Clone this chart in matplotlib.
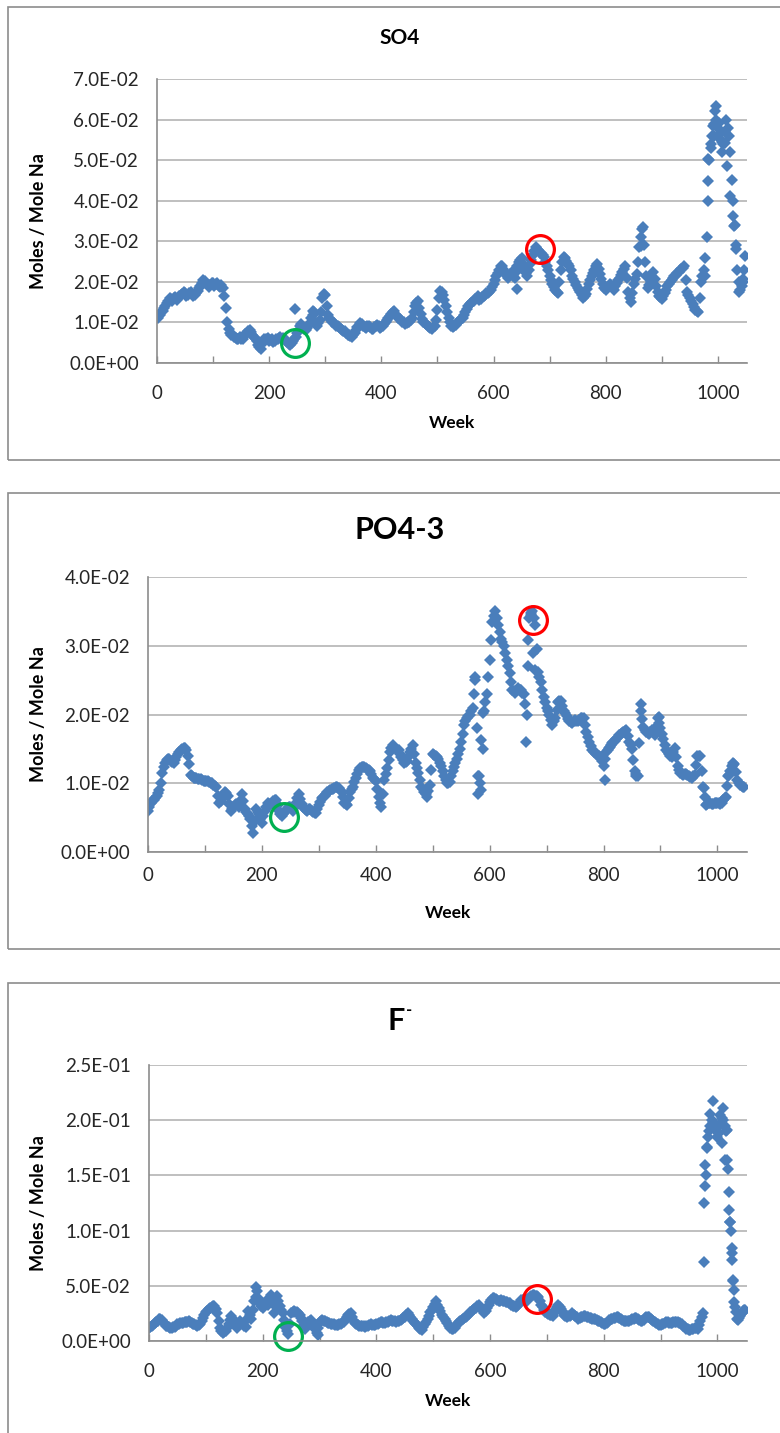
import matplotlib.pyplot as plt
import matplotlib.patches as mpatches
from matplotlib.ticker import FuncFormatter, MultipleLocator
import numpy as np

plt.rcParams['font.family'] = ['Lato', 'DejaVu Sans']

# sampling weeks: every 5th week, plus the readings in between
weeks = np.arange(0, 1050, 5)
weeks_mid = weeks + 2.5

so4 = [
    .0115, .0118, .0128, .0140, .0152, .0158, .0160, .0155, .0165, .0170,
    .0172, .0168, .0175, .0165, .0172, .0185, .0198, .0203, .0195, .0192,
    .0198, .0195, .0190, .0192, .0165, .0100, .0075, .0068, .0062, .0060,
    .0058, .0066, .0075, .0082, .0070, .0062, .0045, .0034, .0058, .0060,
    .0055, .0058, .0055, .0060, .0063, .0062, .0055, .0047, .0050, .0058,
    .0075, .0090, .0088, .0082, .0090, .0110, .0125, .0090, .0105, .0160,
    .0168, .0118, .0105, .0098, .0092, .0088, .0082, .0078, .0070, .0066,
    .0068, .0082, .0092, .0095, .0088, .0090, .0088, .0085, .0090, .0092,
    .0088, .0095, .0105, .0115, .0125, .0120, .0110, .0105, .0100, .0098,
    .0100, .0110, .0140, .0152, .0120, .0100, .0095, .0088, .0085, .0090,
    .0130, .0178, .0168, .0140, .0110, .0092, .0090, .0098, .0105, .0112,
    .0125, .0140, .0148, .0152, .0160, .0155, .0162, .0168, .0172, .0180,
    .0195, .0215, .0230, .0238, .0225, .0210, .0220, .0215, .0225, .0250,
    .0260, .0232, .0215, .0245, .0265, .0285, .0278, .0270, .0262, .0240,
    .0215, .0195, .0180, .0172, .0230, .0262, .0252, .0240, .0215, .0200,
    .0185, .0175, .0160, .0170, .0195, .0215, .0228, .0245, .0220, .0195,
    .0180, .0188, .0192, .0180, .0198, .0210, .0225, .0240, .0175, .0150,
    .0195, .0220, .0285, .0330, .0250, .0185, .0200, .0225, .0190, .0165,
    .0158, .0172, .0190, .0200, .0210, .0218, .0225, .0232, .0238, .0175,
    .0160, .0145, .0130, .0125, .0200, .0230, .0310, .0500, .0560, .0620,
    .0580, .0550, .0540, .0600, .0560, .0450, .0340, .0230, .0180, .0200,
]
so4_mid = [
    .0112, .0125, .0135, .0148, .0160, .0152, .0162, .0160, .0168, .0175,
    .0165, .0172, .0170, .0168, .0178, .0190, .0205, .0198, .0188, .0196,
    .0190, .0198, .0188, .0185, .0135, .0085, .0070, .0065, .0058, .0063,
    .0060, .0072, .0080, .0076, .0065, .0055, .0040, .0050, .0055, .0062,
    .0057, .0052, .0058, .0062, .0058, .0060, .0052, .0044, .0055, .0065,
    .0082, .0095, .0085, .0086, .0098, .0118, .0100, .0098, .0125, .0170,
    .0140, .0110, .0100, .0095, .0090, .0085, .0080, .0074, .0068, .0065,
    .0075, .0088, .0098, .0092, .0086, .0092, .0084, .0088, .0094, .0086,
    .0092, .0100, .0110, .0122, .0128, .0115, .0108, .0102, .0096, .0102,
    .0105, .0125, .0148, .0135, .0108, .0098, .0090, .0086, .0088, .0105,
    .0160, .0175, .0155, .0125, .0100, .0088, .0094, .0102, .0108, .0118,
    .0132, .0145, .0150, .0158, .0165, .0158, .0165, .0172, .0176, .0188,
    .0205, .0222, .0240, .0232, .0218, .0215, .0225, .0210, .0238, .0255,
    .0245, .0222, .0230, .0255, .0275, .0282, .0272, .0265, .0250, .0228,
    .0205, .0188, .0176, .0200, .0250, .0258, .0245, .0228, .0208, .0192,
    .0180, .0168, .0165, .0182, .0205, .0222, .0238, .0232, .0208, .0185,
    .0184, .0195, .0186, .0190, .0204, .0218, .0232, .0210, .0160, .0172,
    .0208, .0250, .0310, .0290, .0215, .0192, .0212, .0208, .0175, .0162,
    .0165, .0180, .0195, .0205, .0214, .0222, .0228, .0235, .0205, .0168,
    .0152, .0138, .0128, .0160, .0215, .0260, .0400, .0530, .0590, .0600,
    .0565, .0545, .0570, .0580, .0520, .0400, .0290, .0200, .0190, .0230,
]
so4_xw = [246, 279, 642, 863, 866, 978, 982, 983, 987, 992, 994, 997, 1002,
          1007, 1012, 1017, 1022, 1027, 1029, 1032, 1038, 1044, 1048]
so4_xv = [.0133, .0129, .0182, .0289, .0334, .0215, .0448, .0502, .0540,
          .0585, .0559, .0633, .0592, .0520, .0543, .0485, .0411, .0362,
          .0338, .0280, .0174, .0207, .0264]

po4 = [
    .0060, .0072, .0076, .0082, .0090, .0115, .0130, .0136, .0133, .0130,
    .0138, .0146, .0150, .0152, .0140, .0112, .0108, .0107, .0106, .0105,
    .0104, .0103, .0101, .0098, .0094, .0072, .0078, .0088, .0082, .0060,
    .0065, .0070, .0066, .0085, .0062, .0056, .0048, .0027, .0062, .0055,
    .0042, .0060, .0072, .0068, .0074, .0076, .0060, .0052, .0058, .0064,
    .0066, .0060, .0072, .0084, .0070, .0062, .0060, .0063, .0058, .0057,
    .0068, .0078, .0082, .0088, .0090, .0092, .0094, .0093, .0088, .0072,
    .0068, .0088, .0095, .0108, .0120, .0124, .0123, .0121, .0118, .0108,
    .0104, .0080, .0066, .0105, .0122, .0145, .0156, .0150, .0148, .0138,
    .0130, .0132, .0145, .0155, .0130, .0115, .0095, .0088, .0080, .0098,
    .0142, .0140, .0135, .0125, .0110, .0100, .0102, .0118, .0130, .0142,
    .0160, .0185, .0195, .0200, .0210, .0250, .0110, .0090, .0205, .0230,
    .0280, .0335, .0350, .0330, .0310, .0300, .0280, .0260, .0235, .0232,
    .0238, .0235, .0230, .0200, .0340, .0350, .0330, .0262, .0248, .0225,
    .0210, .0200, .0185, .0195, .0218, .0220, .0205, .0198, .0190, .0188,
    .0192, .0190, .0195, .0195, .0175, .0160, .0148, .0145, .0140, .0138,
    .0125, .0145, .0152, .0158, .0162, .0168, .0172, .0175, .0178, .0160,
    .0150, .0118, .0110, .0205, .0182, .0175, .0172, .0178, .0170, .0195,
    .0180, .0165, .0148, .0142, .0138, .0152, .0125, .0115, .0112, .0114,
    .0110, .0108, .0112, .0140, .0140, .0095, .0068, .0072, .0070, .0071,
    .0072, .0070, .0075, .0080, .0112, .0125, .0128, .0105, .0097, .0095,
]
po4_mid = [
    .0065, .0074, .0079, .0086, .0100, .0124, .0134, .0135, .0131, .0134,
    .0142, .0148, .0151, .0148, .0128, .0110, .0108, .0106, .0106, .0104,
    .0104, .0102, .0100, .0096, .0082, .0074, .0083, .0086, .0070, .0062,
    .0068, .0068, .0076, .0074, .0058, .0052, .0038, .0045, .0058, .0048,
    .0052, .0066, .0070, .0071, .0075, .0068, .0056, .0055, .0061, .0065,
    .0063, .0066, .0078, .0077, .0066, .0061, .0062, .0060, .0057, .0062,
    .0073, .0080, .0085, .0089, .0091, .0093, .0094, .0090, .0080, .0070,
    .0078, .0092, .0102, .0114, .0122, .0124, .0122, .0120, .0113, .0106,
    .0092, .0072, .0085, .0114, .0134, .0152, .0153, .0149, .0143, .0134,
    .0131, .0138, .0150, .0142, .0122, .0105, .0092, .0084, .0089, .0120,
    .0141, .0138, .0130, .0118, .0105, .0101, .0110, .0124, .0136, .0150,
    .0172, .0190, .0198, .0205, .0230, .0180, .0100, .0150, .0218, .0255,
    .0308, .0343, .0340, .0320, .0305, .0290, .0270, .0248, .0234, .0235,
    .0236, .0232, .0215, .0270, .0345, .0340, .0295, .0255, .0236, .0218,
    .0205, .0192, .0190, .0206, .0219, .0212, .0202, .0194, .0189, .0190,
    .0191, .0192, .0195, .0185, .0168, .0154, .0146, .0142, .0139, .0132,
    .0135, .0148, .0155, .0160, .0165, .0170, .0173, .0176, .0169, .0155,
    .0134, .0114, .0158, .0194, .0178, .0173, .0175, .0174, .0182, .0188,
    .0172, .0156, .0145, .0140, .0145, .0138, .0120, .0113, .0113, .0112,
    .0109, .0110, .0126, .0140, .0118, .0080, .0070, .0071, .0070, .0072,
    .0071, .0072, .0078, .0096, .0118, .0126, .0116, .0101, .0096, .0094,
]
po4_xw = [574, 580, 582, 585, 588, 664, 667, 672, 676, 679, 802, 811, 857,
          866, 898, 977, 1018, 1027]
po4_xv = [.0255, .0085, .0110, .0163, .0202, .0160, .0308, .0347, .0289,
          .0265, .0105, .0153, .0110, .0216, .0197, .0093, .0110, .0129]

fl = [
    .0115, .0135, .0160, .0185, .0200, .0175, .0140, .0125, .0120, .0130,
    .0150, .0160, .0165, .0170, .0180, .0165, .0150, .0140, .0150, .0210,
    .0260, .0290, .0310, .0320, .0250, .0120, .0080, .0090, .0150, .0230,
    .0170, .0120, .0180, .0150, .0130, .0270, .0200, .0360, .0450, .0340,
    .0300, .0360, .0330, .0420, .0250, .0410, .0320, .0250, .0130, .0060,
    .0250, .0270, .0260, .0240, .0180, .0110, .0170, .0190, .0150, .0070,
    .0170, .0190, .0180, .0165, .0155, .0150, .0145, .0150, .0160, .0190,
    .0240, .0250, .0180, .0150, .0140, .0135, .0130, .0140, .0150, .0145,
    .0150, .0165, .0170, .0160, .0175, .0190, .0180, .0175, .0185, .0200,
    .0220, .0250, .0220, .0180, .0150, .0120, .0100, .0150, .0200, .0260,
    .0310, .0360, .0300, .0240, .0200, .0160, .0120, .0105, .0140, .0170,
    .0190, .0210, .0230, .0260, .0280, .0300, .0330, .0290, .0250, .0300,
    .0350, .0390, .0380, .0360, .0370, .0360, .0350, .0340, .0320, .0310,
    .0330, .0370, .0380, .0360, .0400, .0420, .0410, .0400, .0330, .0280,
    .0250, .0240, .0230, .0280, .0330, .0290, .0240, .0220, .0230, .0250,
    .0230, .0200, .0215, .0225, .0220, .0210, .0200, .0195, .0185, .0175,
    .0150, .0160, .0190, .0200, .0210, .0220, .0200, .0185, .0180, .0185,
    .0195, .0210, .0200, .0180, .0190, .0220, .0215, .0190, .0170, .0150,
    .0145, .0155, .0170, .0165, .0160, .0175, .0170, .0160, .0140, .0110,
    .0100, .0105, .0120, .0110, .0180, .0250, .1500, .1900, .2000, .1950,
    .1850, .2050, .2000, .1900, .1350, .0800, .0350, .0200, .0230, .0270,
]
fl_mid = [
    .0125, .0148, .0172, .0195, .0188, .0158, .0132, .0122, .0125, .0140,
    .0155, .0162, .0168, .0175, .0172, .0158, .0145, .0145, .0180, .0235,
    .0275, .0300, .0315, .0290, .0180, .0095, .0085, .0120, .0190, .0200,
    .0145, .0150, .0165, .0140, .0200, .0235, .0280, .0400, .0390, .0320,
    .0330, .0345, .0375, .0335, .0330, .0365, .0285, .0190, .0095, .0150,
    .0260, .0265, .0250, .0210, .0145, .0140, .0180, .0170, .0110, .0120,
    .0180, .0185, .0172, .0160, .0152, .0148, .0148, .0155, .0175, .0215,
    .0245, .0215, .0165, .0145, .0138, .0132, .0135, .0145, .0148, .0148,
    .0158, .0168, .0165, .0168, .0182, .0185, .0178, .0180, .0192, .0210,
    .0235, .0235, .0200, .0165, .0135, .0110, .0125, .0175, .0230, .0285,
    .0335, .0330, .0270, .0220, .0180, .0140, .0112, .0122, .0155, .0180,
    .0200, .0220, .0245, .0270, .0290, .0315, .0310, .0270, .0275, .0325,
    .0370, .0385, .0370, .0365, .0365, .0355, .0345, .0330, .0315, .0320,
    .0350, .0375, .0370, .0380, .0410, .0415, .0405, .0365, .0305, .0265,
    .0245, .0235, .0255, .0305, .0310, .0265, .0230, .0225, .0240, .0240,
    .0215, .0208, .0220, .0222, .0215, .0205, .0198, .0190, .0180, .0162,
    .0155, .0175, .0195, .0205, .0215, .0210, .0192, .0182, .0182, .0190,
    .0202, .0205, .0190, .0185, .0205, .0218, .0202, .0180, .0160, .0148,
    .0150, .0162, .0168, .0162, .0168, .0172, .0165, .0150, .0125, .0105,
    .0102, .0112, .0115, .0145, .0215, .1400, .1750, .1950, .1980, .1900,
    .1950, .2020, .1950, .1640, .1080, .0550, .0260, .0210, .0250, .0285,
]
fl_xw = [130, 189, 297, 976, 977, 978, 981, 984, 987, 993, 996, 1002, 1008,
         1010, 1014, 1016, 1019, 1020, 1022, 1023, 1025, 1026, 1028, 1029,
         1031, 1037, 1043, 1049]
fl_xv = [.0070, .0490, .0054, .0720, .1250, .1590, .1760, .1850, .2060,
         .2170, .1970, .1880, .1790, .2110, .1640, .1910, .1560, .1190,
         .1080, .1000, .0840, .0730, .0540, .0460, .0310, .0190, .0250,
         .0280]

# highlighted points: (week, value) for the red and green rings
rings = {
    'so4': [(683, .0280), (246, .00485)],
    'po4': [(677, .0338), (239, .0051)],
    'fl': [(683, .0380), (244, .0045)],
}

W, H = 780, 1433
fig = plt.figure(figsize=(W / 100, H / 100), dpi=100)


def px_axes(left, top, right, bottom):
    return fig.add_axes([left / W, 1 - bottom / H, (right - left) / W, (bottom - top) / H])


# chart frames
for top, bottom in [(7, 460), (493, 949), (983, 1445)]:
    fig.add_artist(mpatches.Rectangle((8 / W, 1 - bottom / H), 800 / W, (bottom - top) / H,
                                      transform=fig.transFigure, fill=False,
                                      edgecolor='#8c8c8c', linewidth=1.2))

blue = '#4A7EBB'
sci = FuncFormatter(lambda v, p: f'{v:.1E}')

panels = [
    dict(box=(157, 79, 747, 363), title='SO4', tsize=15, tpos=(400, 38),
         y=so4, ym=so4_mid, xw=so4_xw, xv=so4_xv, ymax=0.07, ystep=0.01,
         ring=rings['so4'], xpad=16, wpad=9),
    dict(box=(148, 577, 747, 852), title='PO4-3', tsize=22, tpos=(400, 530),
         y=po4, ym=po4_mid, xw=po4_xw, xv=po4_xv, ymax=0.04, ystep=0.01,
         ring=rings['po4'], xpad=11, wpad=15),
    dict(box=(149, 1065, 747, 1341), title='F', tsize=22, tpos=(396, 1021),
         y=fl, ym=fl_mid, xw=fl_xw, xv=fl_xv, ymax=0.25, ystep=0.05,
         ring=rings['fl'], xpad=16, wpad=9),
]

for p in panels:
    ax = px_axes(*p['box'])
    for xs, ys in [(weeks, p['y']), (weeks_mid, p['ym']), (p['xw'], p['xv'])]:
        ax.plot(xs, ys, linestyle='none', marker='D', markersize=6,
                markeredgewidth=0, color=blue)
    (rw, rv), (gw, gv) = p['ring']
    ax.plot([rw], [rv], marker='o', markersize=20, markerfacecolor='none',
            markeredgecolor='#FF0000', markeredgewidth=2.3, clip_on=False)
    ax.plot([gw], [gv], marker='o', markersize=20, markerfacecolor='none',
            markeredgecolor='#00B050', markeredgewidth=2.3, clip_on=False)

    ax.set_xlim(0, 1052)
    ax.set_ylim(0, p['ymax'])
    ax.xaxis.set_major_locator(MultipleLocator(200))
    ax.xaxis.set_minor_locator(MultipleLocator(100))
    ax.yaxis.set_major_locator(MultipleLocator(p['ystep']))
    ax.yaxis.set_major_formatter(sci)
    ax.tick_params(axis='x', which='both', direction='in', length=5, width=1,
                   color='#8c8c8c', labelsize=13.5, pad=p['xpad'], labelcolor='#262626')
    ax.tick_params(axis='y', length=0, labelsize=13.5, pad=13, labelcolor='#262626')
    ax.grid(axis='y', color='#b4b4b4', linewidth=1.2)
    ax.set_axisbelow(True)
    for side in ['top', 'right']:
        ax.spines[side].set_visible(False)
    for side in ['left', 'bottom']:
        ax.spines[side].set_color('#8c8c8c')
        ax.spines[side].set_linewidth(1.2)

    ax.set_xlabel('Week', fontsize=12.5, fontweight='bold', labelpad=p['wpad'])
    ax.set_ylabel('Moles / Mole Na', fontsize=13, fontweight='bold')
    ax.yaxis.set_label_coords((47 - p['box'][0]) / (p['box'][2] - p['box'][0]), 0.5)

    tx, ty = p['tpos']
    fig.text(tx / W, 1 - ty / H, p['title'], fontsize=p['tsize'], fontweight='bold',
             ha='center', va='center')

# superscript charge on the fluoride title
fig.text(406 / W, 1 - 1010 / H, '-', fontsize=12, fontweight='bold',
         ha='left', va='center')

fig.savefig('out.png', dpi=100)
